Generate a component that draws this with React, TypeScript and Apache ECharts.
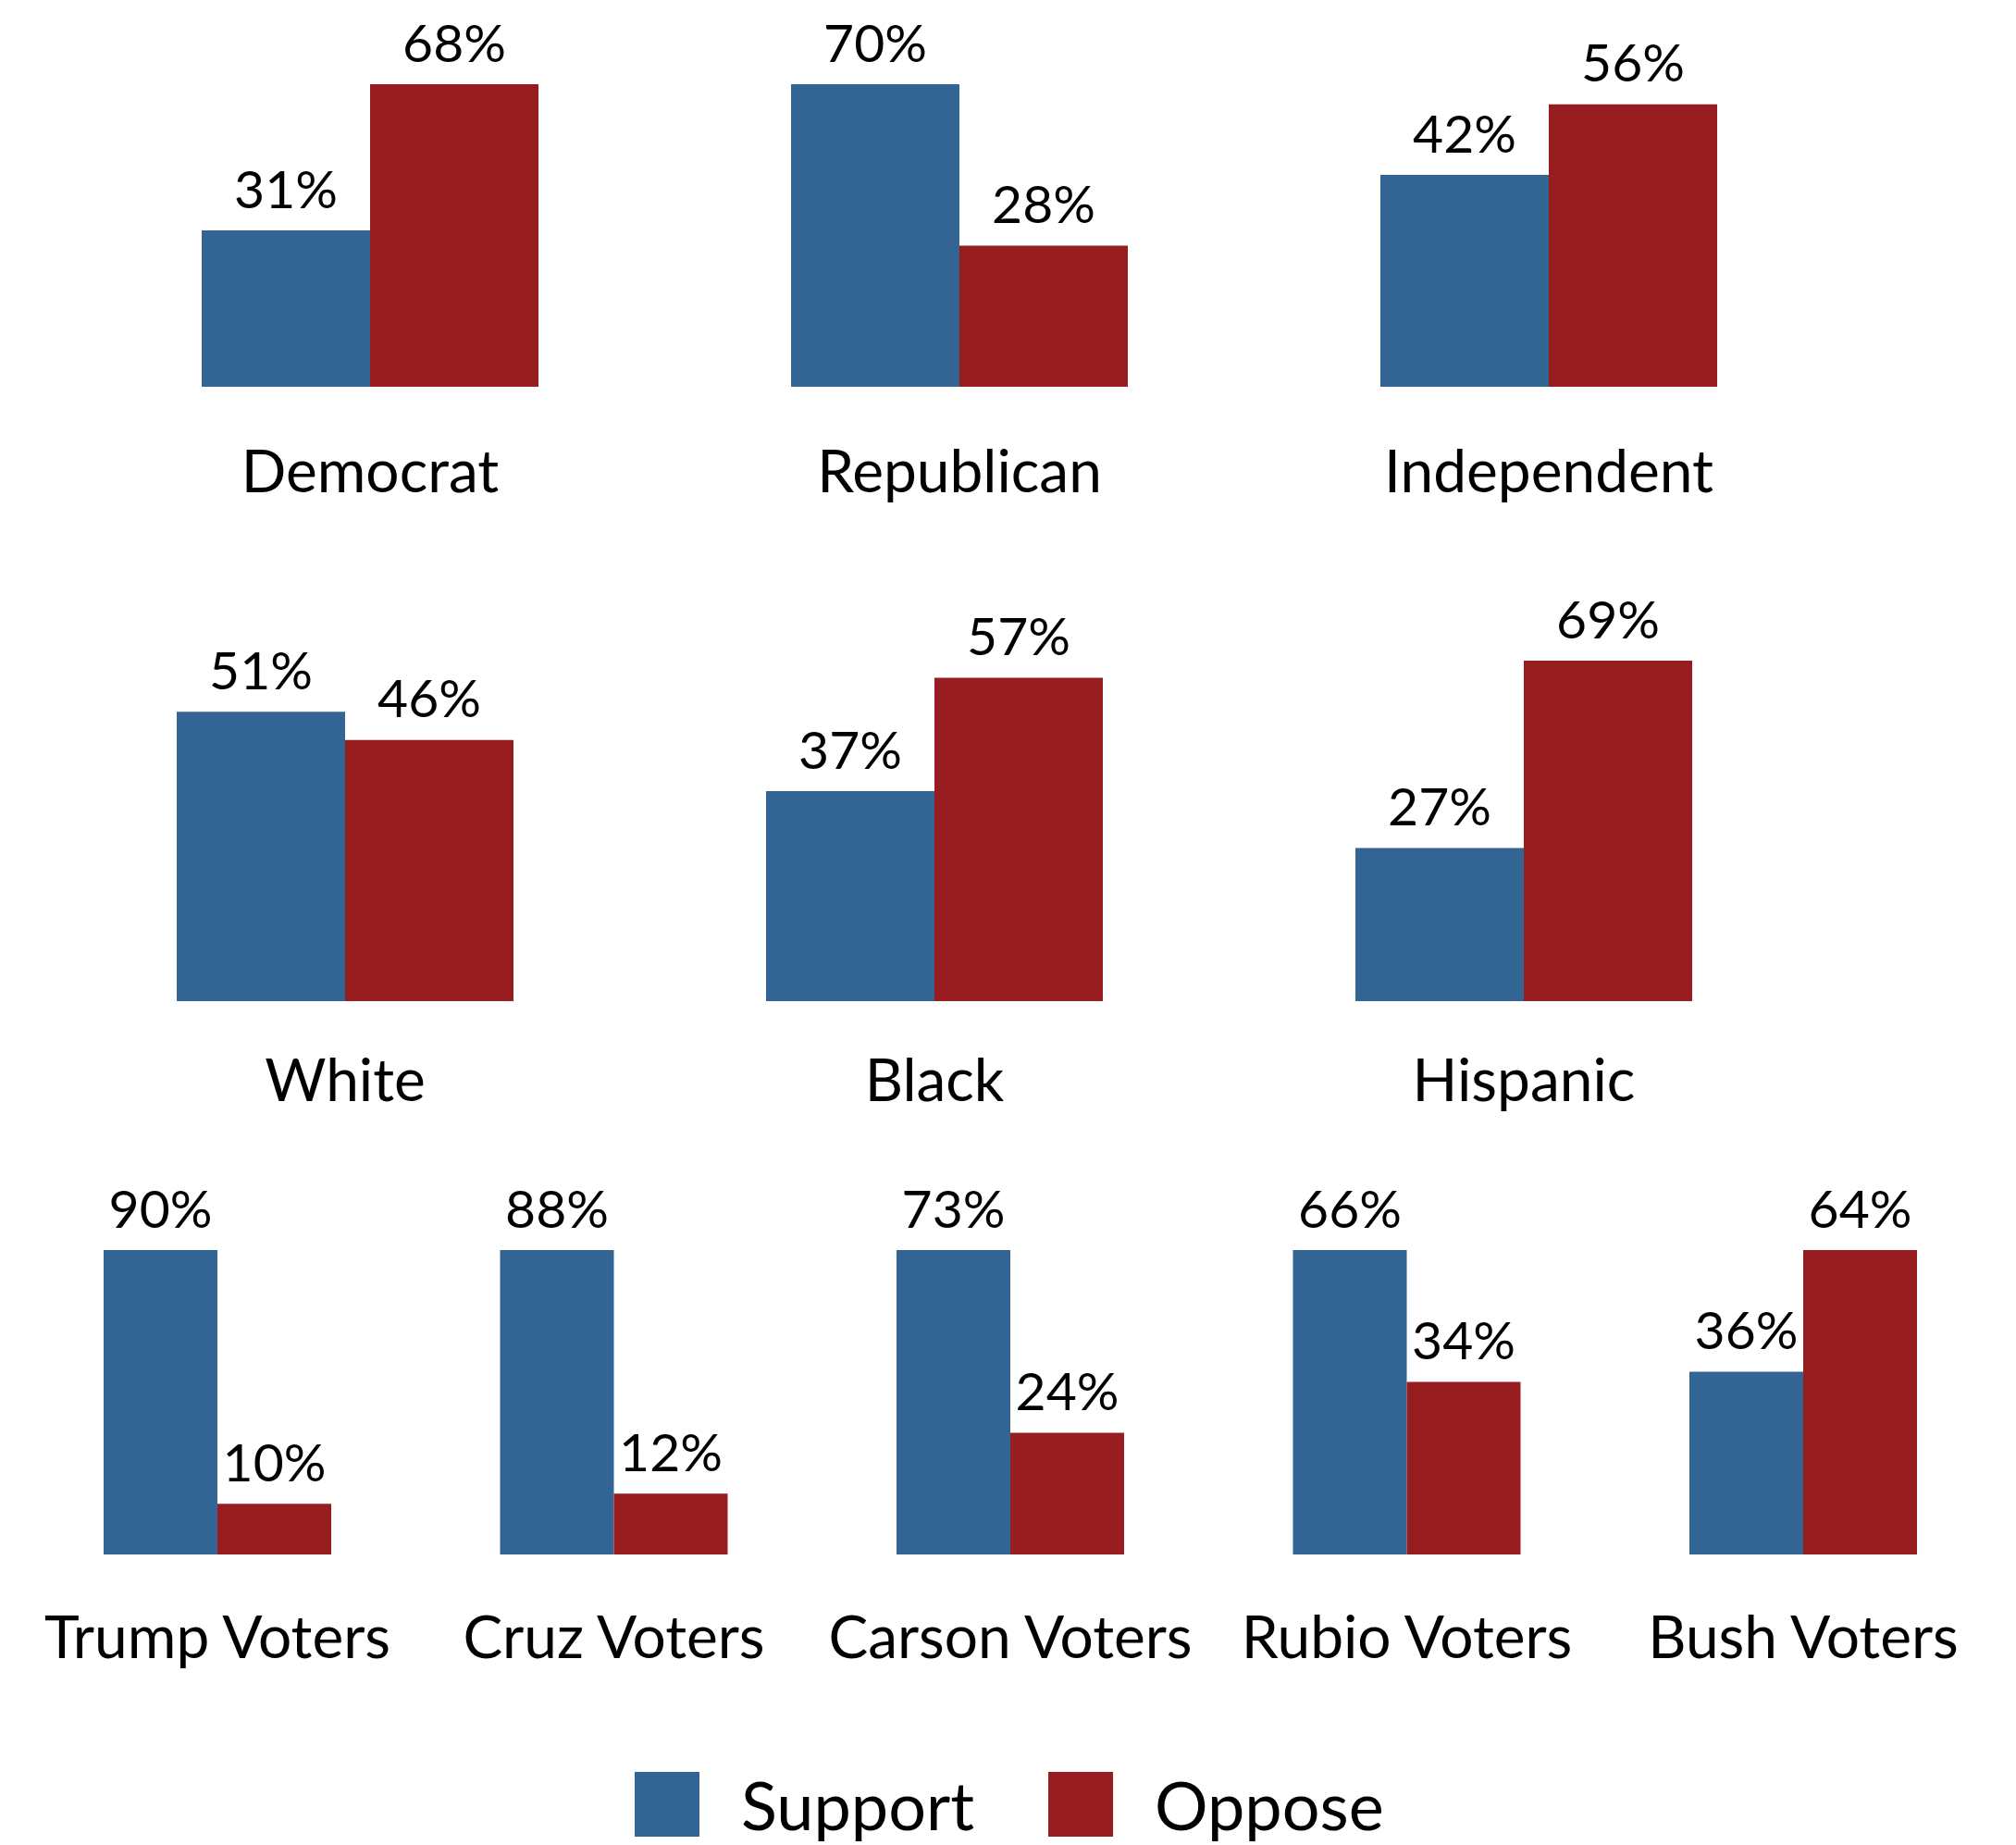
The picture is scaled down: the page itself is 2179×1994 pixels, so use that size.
import React, { useEffect, useRef } from "react";
import * as echarts from "echarts";

// ---- Data ----
const seriesNames = ["Support", "Oppose"];

const partyCategories = ["Democrat", "Republican", "Independent"];
const partySupport = [31, 70, 42];
const partyOppose = [68, 28, 56];

const raceCategories = ["White", "Black", "Hispanic"];
const raceSupport = [51, 37, 27];
const raceOppose = [46, 57, 69];

const voterCategories = ["Trump Voters", "Cruz Voters", "Carson Voters", "Rubio Voters", "Bush Voters"];
const voterSupport = [90, 88, 73, 66, 36];
const voterOppose = [10, 12, 24, 34, 64];

const axisMax = 60;

// ---- Layout (pixels) ----
const COLORS = ["#336594", "#981d21"];
const FONT = "Lato";

type Row = {
  cats: string[];
  sup: number[];
  opp: number[];
  centers: number[];
  top: number;
  bottom: number;
  barW: number;
  labelMargin: number;
};

const rows: Row[] = [
  { cats: partyCategories, sup: partySupport, opp: partyOppose, centers: [400, 1037, 1674], top: 91, bottom: 418, barW: 182, labelMargin: 57 },
  { cats: raceCategories, sup: raceSupport, opp: raceOppose, centers: [373, 1010, 1647], top: 714, bottom: 1082, barW: 182, labelMargin: 51 },
  { cats: voterCategories, sup: voterSupport, opp: voterOppose, centers: [235, 663.5, 1092, 1520.5, 1949], top: 1351, bottom: 1680, barW: 123, labelMargin: 55 },
];

export default function App() {
  const ref = useRef<HTMLDivElement>(null);
  useEffect(() => {
    if (!ref.current) return;
    const chart = echarts.init(ref.current, null, { renderer: "svg" });
    const grid: any[] = [];
    const xAxis: any[] = [];
    const yAxis: any[] = [];
    const series: any[] = [];
    let idx = 0;
    rows.forEach((r) => {
      r.cats.forEach((cat, i) => {
        const c = r.centers[i];
        grid.push({ left: c - r.barW, top: r.top, width: r.barW * 2, height: r.bottom - r.top, containLabel: false });
        xAxis.push({
          type: "category",
          gridIndex: idx,
          data: [cat],
          axisLine: { show: false },
          axisTick: { show: false },
          axisLabel: { show: true, color: "#000", fontFamily: FONT, fontSize: 64, margin: r.labelMargin, interval: 0 },
        });
        yAxis.push({
          type: "value",
          gridIndex: idx,
          min: 0,
          max: axisMax,
          show: false,
          splitLine: { show: false },
        });
        const vals = [r.sup[i], r.opp[i]];
        vals.forEach((v, s) => {
          series.push({
            type: "bar",
            name: seriesNames[s],
            xAxisIndex: idx,
            yAxisIndex: idx,
            data: [v],
            barWidth: r.barW,
            barGap: "0%",
            clip: true,
            itemStyle: { color: COLORS[s] },
            label: {
              show: true,
              position: "top",
              distance: 18,
              formatter: "{c}%",
              color: "#000",
              fontFamily: FONT,
              fontSize: 57,
            },
          });
        });
        idx++;
      });
    });
    chart.setOption({
      animation: false,
      backgroundColor: "#fff",
      grid,
      xAxis,
      yAxis,
      series,
      legend: {
        data: seriesNames,
        left: 681,
        top: 1909,
        icon: "rect",
        itemWidth: 70,
        itemHeight: 70,
        itemGap: 80,
        textStyle: { fontFamily: FONT, fontSize: 72, color: "#000", padding: [0, 0, 0, 40] },
      },
    });
    return () => chart.dispose();
  }, []);
  return (
    <div
      ref={ref}
      style={{ position: "absolute", left: 0, top: 0, width: 2179, height: 1994 }}
    />
  );
}
